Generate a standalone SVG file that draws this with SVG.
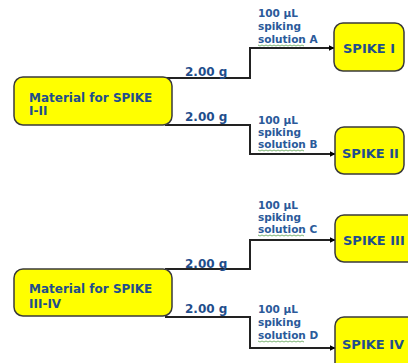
<svg xmlns="http://www.w3.org/2000/svg" width="408" height="363" viewBox="0 0 408 363">
<defs>
<marker id="arr" viewBox="0 0 10 10" refX="9" refY="5" markerWidth="6" markerHeight="6" markerUnits="userSpaceOnUse" orient="auto">
<path d="M0,0 L10,5 L0,10 z" fill="#000"/>
</marker>
<style>
.box{fill:#ffff00;stroke:#3a3a3a;stroke-width:1.5}
.t{font-family:"DejaVu Sans",Verdana,sans-serif;font-weight:bold;fill:#1f4e8c}
.big{font-size:12px}
.sp{font-size:13px}
.g{font-size:12px}
.sm{font-size:10.5px;fill:#2a5a9a}
.con{fill:none;stroke:#222;stroke-width:2;marker-end:url(#arr)}
.sq{fill:none;stroke:#5aa050;stroke-width:0.8}
</style>
</defs>
<rect width="408" height="363" fill="#fff"/>
<g id="connectors">
<path class="con" d="M165,78 H250 V48 H334"/>
<path class="con" d="M165,125 H250 V154 H335"/>
<path class="con" d="M165,269 H250 V240 H335"/>
<path class="con" d="M165,317 H250 V348 H335"/>
</g>
<g id="mat1">
<rect class="box" x="14" y="77" width="158" height="48" rx="9"/>
<text class="t big" x="29" y="102">Material for SPIKE</text>
<text class="t big" x="29" y="115">I-II</text>
</g>
<g id="mat2">
<rect class="box" x="14" y="269" width="158" height="47" rx="9"/>
<text class="t big" x="29" y="293">Material for SPIKE</text>
<text class="t big" x="29" y="308">III-IV</text>
</g>
<g id="spike1">
<rect class="box" x="334" y="23" width="70" height="48" rx="9"/>
<text class="t sp" x="343" y="53">SPIKE I</text>
</g>
<g id="spike2">
<rect class="box" x="335" y="127" width="69" height="47" rx="9"/>
<text class="t sp" x="342" y="158">SPIKE II</text>
</g>
<g id="spike3">
<rect class="box" x="335" y="215" width="85" height="47" rx="9"/>
<text class="t sp" x="343" y="245">SPIKE III</text>
</g>
<g id="spike4">
<rect class="box" x="335" y="317" width="85" height="60" rx="9"/>
<text class="t sp" x="342" y="349">SPIKE IV</text>
</g>
<g id="labels">
<text class="t g" x="185" y="76">2.00 g</text>
<text class="t g" x="185" y="121">2.00 g</text>
<text class="t g" x="185" y="268">2.00 g</text>
<text class="t g" x="185" y="313">2.00 g</text>
<text class="t sm" x="258" y="17">100 µL</text>
<text class="t sm" x="258" y="30">spiking</text>
<text class="t sm" x="258" y="43">solution A</text>
<text class="t sm" x="258" y="124">100 µL</text>
<text class="t sm" x="258" y="136">spiking</text>
<text class="t sm" x="258" y="148">solution B</text>
<text class="t sm" x="258" y="209">100 µL</text>
<text class="t sm" x="258" y="221">spiking</text>
<text class="t sm" x="258" y="233">solution C</text>
<text class="t sm" x="258" y="313">100 µL</text>
<text class="t sm" x="258" y="326">spiking</text>
<text class="t sm" x="258" y="339">solution D</text>
<path class="sq" d="M258,45 l2,1 l2,-1 l2,1 l2,-1 l2,1 l2,-1 l2,1 l2,-1 l2,1 l2,-1 l2,1 l2,-1 l2,1 l2,-1 l2,1 l2,-1 l2,1 l2,-1 l2,1 l2,-1 l2,1 l2,-1 l2,1"/>
<path class="sq" d="M258,150 l2,1 l2,-1 l2,1 l2,-1 l2,1 l2,-1 l2,1 l2,-1 l2,1 l2,-1 l2,1 l2,-1 l2,1 l2,-1 l2,1 l2,-1 l2,1 l2,-1 l2,1 l2,-1 l2,1 l2,-1 l2,1"/>
<path class="sq" d="M258,235 l2,1 l2,-1 l2,1 l2,-1 l2,1 l2,-1 l2,1 l2,-1 l2,1 l2,-1 l2,1 l2,-1 l2,1 l2,-1 l2,1 l2,-1 l2,1 l2,-1 l2,1 l2,-1 l2,1 l2,-1 l2,1"/>
<path class="sq" d="M258,341 l2,1 l2,-1 l2,1 l2,-1 l2,1 l2,-1 l2,1 l2,-1 l2,1 l2,-1 l2,1 l2,-1 l2,1 l2,-1 l2,1 l2,-1 l2,1 l2,-1 l2,1 l2,-1 l2,1 l2,-1 l2,1"/>
</g>
</svg>
